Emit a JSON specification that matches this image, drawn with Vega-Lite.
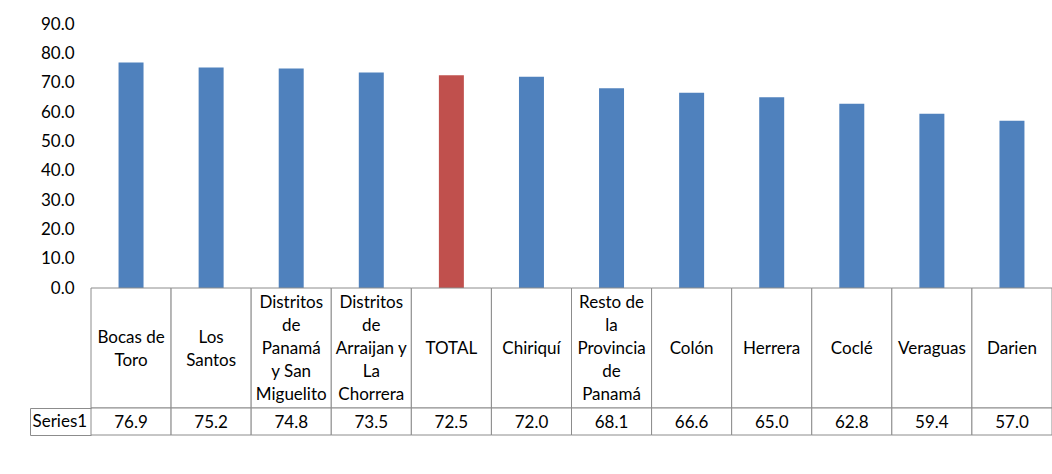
{
  "$schema": "https://vega.github.io/schema/vega-lite/v6.json",
  "padding": {"left": 29, "top": 15, "right": 0, "bottom": 37},
  "background": "white",
  "config": {
    "view": {"stroke": null},
    "font": "Lato",
    "text": {"font": "Lato", "fontSize": 17, "color": "#000000", "lineHeight": 23},
    "axis": {"labelFont": "Lato", "labelFontSize": 17, "labelColor": "#000000"}
  },
  "bounds": "flush",
  "spacing": 0,
  "datasets": {
    "d": [
      {"cat": "Bocas de Toro", "label": ["Bocas de", "Toro"], "value": 76.9, "series": "Series1"},
      {"cat": "Los Santos", "label": ["Los", "Santos"], "value": 75.2, "series": "Series1"},
      {"cat": "Distritos de Panamá y San Miguelito", "label": ["Distritos", "de", "Panamá", "y San", "Miguelito"], "value": 74.8, "series": "Series1"},
      {"cat": "Distritos de Arraijan y La Chorrera", "label": ["Distritos", "de", "Arraijan y", "La", "Chorrera"], "value": 73.5, "series": "Series1"},
      {"cat": "TOTAL", "label": ["TOTAL"], "value": 72.5, "series": "Series1"},
      {"cat": "Chiriquí", "label": ["Chiriquí"], "value": 72.0, "series": "Series1"},
      {"cat": "Resto de la Provincia de Panamá", "label": ["Resto de", "la", "Provincia", "de", "Panamá"], "value": 68.1, "series": "Series1"},
      {"cat": "Colón", "label": ["Colón"], "value": 66.6, "series": "Series1"},
      {"cat": "Herrera", "label": ["Herrera"], "value": 65.0, "series": "Series1"},
      {"cat": "Coclé", "label": ["Coclé"], "value": 62.8, "series": "Series1"},
      {"cat": "Veraguas", "label": ["Veraguas"], "value": 59.4, "series": "Series1"},
      {"cat": "Darien", "label": ["Darien"], "value": 57.0, "series": "Series1"}
    ]
  },
  "vconcat": [
    {
      "width": 961,
      "height": 264,
      "data": {"name": "d"},
      "mark": {"type": "bar"},
      "encoding": {
        "x": {"field": "cat", "type": "nominal", "sort": null,
              "scale": {"paddingInner": 0.688, "paddingOuter": 0.344}, "axis": null},
        "y": {"field": "value", "type": "quantitative",
              "scale": {"domain": [0, 90], "nice": false},
              "axis": {"title": null, "values": [0, 10, 20, 30, 40, 50, 60, 70, 80, 90], "format": ".1f",
                       "domain": false, "ticks": false, "grid": false, "labelPadding": 17}},
        "color": {"condition": {"test": "datum.cat === 'TOTAL'", "value": "#C0504D"}, "value": "#4F81BD"}
      }
    },
    {
      "width": 961,
      "height": 120,
      "data": {"name": "d"},
      "encoding": {
        "x": {"field": "cat", "type": "nominal", "sort": null,
              "scale": {"paddingInner": 0, "paddingOuter": 0}, "axis": null}
      },
      "layer": [
        {
          "mark": {"type": "rect", "fill": "white", "stroke": "#8c8c8c", "strokeWidth": 1}
        },
        {
          "transform": [{"filter": "length(datum.label) == 1"}],
          "mark": {"type": "text", "align": "center", "baseline": "middle", "dy": 1},
          "encoding": {"text": {"field": "label"}}
        },
        {
          "transform": [{"filter": "length(datum.label) == 2"}],
          "mark": {"type": "text", "align": "center", "baseline": "middle", "dy": -10.5},
          "encoding": {"text": {"field": "label"}}
        },
        {
          "transform": [{"filter": "length(datum.label) == 5"}],
          "mark": {"type": "text", "align": "center", "baseline": "middle", "dy": -45},
          "encoding": {"text": {"field": "label"}}
        }
      ]
    },
    {
      "width": 961,
      "height": 27,
      "data": {"name": "d"},
      "layer": [
        {
          "mark": {"type": "rect", "fill": "white", "stroke": "#8c8c8c", "strokeWidth": 1},
          "encoding": {
            "x": {"field": "cat", "type": "nominal", "sort": null,
                  "scale": {"paddingInner": 0, "paddingOuter": 0}, "axis": null},
            "y": {"field": "series", "type": "nominal",
                  "scale": {"paddingInner": 0, "paddingOuter": 0},
                  "axis": {"title": null, "orient": "left", "offset": 61, "domainColor": "#8c8c8c",
                           "tickColor": "#8c8c8c", "tickSize": -61, "tickBand": "extent",
                           "labelAlign": "left", "labelPadding": 59}}
          }
        },
        {
          "mark": {"type": "text", "align": "center", "baseline": "middle", "dy": 1},
          "encoding": {
            "x": {"field": "cat", "type": "nominal", "sort": null},
            "y": {"field": "series", "type": "nominal"},
            "text": {"field": "value", "type": "quantitative", "format": ".1f"}
          }
        }
      ]
    }
  ]
}
